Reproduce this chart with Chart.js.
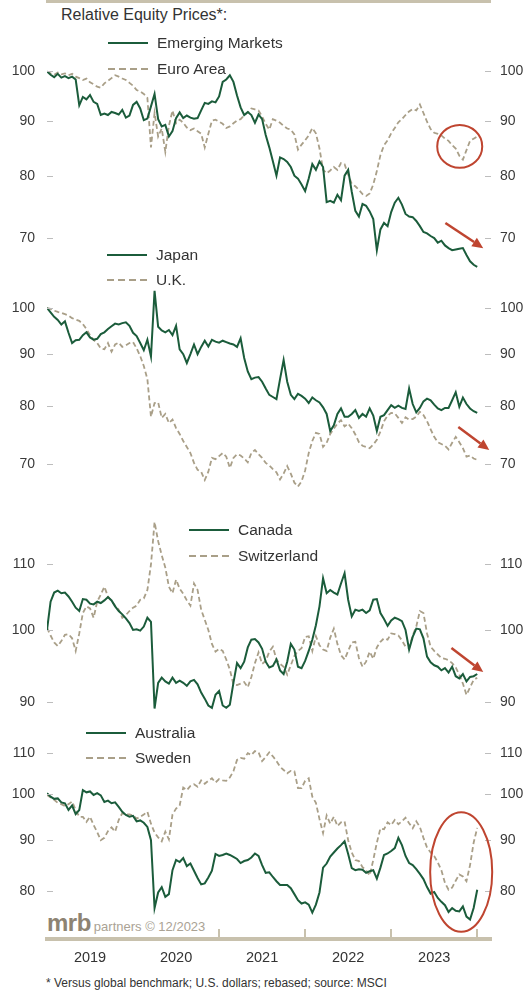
<!DOCTYPE html>
<html lang="en">
<head>
<meta charset="utf-8">
<title>Relative Equity Prices</title>
<script src="https://cdn.jsdelivr.net/npm/chart.js@4.4.1/dist/chart.umd.min.js"></script>
<style>
  html, body { margin: 0; padding: 0; background: #fff; }
  #page { position: relative; width: 526px; height: 995px; overflow: hidden;
          font-family: "Liberation Sans", Arial, sans-serif; color: #333; }
  #page canvas { position: absolute; left: 0; }
  .band { position: absolute; left: 46px; top: 0; width: 445px; height: 3px; background: #c8c1ad; }
  .title { position: absolute; left: 61px; top: 6px; font-size: 16px; line-height: 18px; white-space: nowrap; }
  .leg { position: absolute; height: 18px; line-height: 18px; font-size: 15.5px; white-space: nowrap;
         display: flex; align-items: center; }
  .leg svg { margin-right: 9px; flex: none; }
  .brand { position: absolute; left: 47px; top: 911px; white-space: nowrap; line-height: 24px; }
  .brand b { font-size: 24px; color: #8d8372; letter-spacing: -0.5px; }
  .brand span { font-size: 13px; color: #aaa294; margin-left: 3px; }
  .note { position: absolute; left: 46px; top: 975px; font-size: 12px; line-height: 16px; white-space: nowrap; }
</style>
</head>
<body>
<div id="page">
  <div class="band"></div>
  <div class="title">Relative Equity Prices*:</div>
  <div class="brand"><b>mrb</b><span>partners © 12/2023</span></div>
  <div class="note">* Versus global benchmark; U.S. dollars; rebased; source: MSCI</div>
</div>
<script>
// Semi-monthly observations, Jan 2019 through Dec 2023 (decimal years)
const PERIODS = Array.from({ length: 121 }, (_, k) => 2019 + k / 24);
const YEARS = [2019, 2020, 2021, 2022, 2023];
const YEAR_BOUNDARIES = [2021, 2022, 2023, 2024];

const emergingMarkets = [
  100, 99.3, 98.8, 99.5, 98.7, 99.0, 98.6, 98.9, 98.3, 93.0,
  94.7, 94.2, 95.1, 93.7, 93.3, 91.1, 91.4, 91.1, 91.7, 91.5,
  91.2, 92.1, 90.6, 91.0, 93.1, 93.7, 92.4, 90.1, 90.4, 92.8,
  95.3, 90.3, 88.9, 89.2, 87.0, 88.0, 90.5, 91.6, 90.5, 91.0,
  90.6, 90.4, 90.5, 92.0, 93.5, 93.3, 93.8, 93.6, 94.8, 97.8,
  98.3, 99.2, 97.8, 95.0, 92.6, 91.1, 91.7, 91.1, 89.6, 91.2,
  90.3, 87.3, 85.0, 82.5, 80.0, 83.2, 82.9, 82.4, 81.5, 80.0,
  79.5, 78.5, 77.4, 79.5, 82.0, 81.0, 82.5, 81.5, 75.6, 75.8,
  75.5, 76.8, 75.9, 80.0, 81.0, 77.3, 74.2, 73.3, 75.3, 75.0,
  74.1, 72.9, 68.2, 71.3, 72.3, 71.8, 74.0, 75.5, 76.3, 75.2,
  73.7, 73.3, 73.2, 72.6, 71.8, 70.9, 70.7, 70.3, 70.0, 69.3,
  69.6, 68.9, 68.5, 68.2, 68.3, 68.4, 68.5, 67.5, 66.6, 66.1, 65.8
];
const euroArea = [
  100, 99.6, 99.3, 99.8, 99.4, 99.6, 99.2, 99.5, 98.9, 98.6,
  98.2, 98.5, 97.7, 97.3, 96.8, 96.6, 97.5, 98.0, 98.6, 99.2,
  98.9, 98.5, 98.2, 97.6, 97.0, 96.1, 95.8, 95.3, 94.5, 85.0,
  91.5, 87.0, 88.5, 84.2, 89.0, 92.0, 89.5, 90.2, 89.6, 88.7,
  88.2, 88.5, 88.0, 87.5, 85.0, 87.5, 90.0, 90.2, 89.8, 89.4,
  88.6, 88.9, 89.5, 90.0, 90.3, 91.0, 91.6, 92.4, 92.2, 92.0,
  90.8, 89.4, 88.3, 90.3, 90.0, 89.6, 89.0, 88.5, 88.3, 87.4,
  84.6, 85.5, 86.3, 87.2, 88.6, 87.6, 84.8, 81.0, 80.4, 80.9,
  81.5, 81.0, 82.2, 82.0, 80.2, 78.6, 78.2, 77.6, 76.9, 76.6,
  77.0, 78.5, 80.8, 83.6, 85.4, 86.3, 87.6, 88.6, 89.7, 90.3,
  91.1, 91.8, 92.3, 92.0, 93.2, 91.5, 89.8, 88.4, 87.7, 87.5,
  87.2, 86.6, 86.2, 85.4, 84.8, 83.5, 82.8, 84.5, 86.2, 86.6, 87.0
];
const japan = [
  100, 99.0, 98.0, 97.3, 96.3, 97.0, 94.5, 92.3, 92.9, 93.0,
  94.0, 94.6, 93.5, 93.0, 93.2, 94.2, 94.6, 95.3, 95.9, 96.5,
  96.3, 96.6, 96.8, 96.0, 94.5, 93.8, 92.3, 90.8, 93.0, 89.5,
  104.0, 95.8, 95.0, 94.6, 95.1, 94.0, 96.0, 91.0, 90.0, 88.2,
  90.0, 92.0, 90.0, 91.5, 92.8, 91.6, 93.0, 92.6, 92.4, 92.8,
  92.5, 92.2, 92.0, 91.5, 93.3, 89.2, 86.5, 85.0, 85.3, 85.4,
  84.5, 83.2, 82.0, 81.6, 81.2, 85.0, 88.8, 84.5, 82.0, 81.2,
  82.2, 81.8, 81.3, 80.5, 81.5, 81.0, 80.6, 79.7, 78.5, 75.5,
  76.5, 78.5, 79.5, 78.0, 78.0, 78.5, 79.2, 77.8, 78.5, 78.0,
  79.5, 78.2, 75.5, 78.0, 78.3, 79.2, 80.1, 79.6, 80.0, 79.6,
  79.4, 83.2, 80.3, 78.8, 79.6, 80.8, 81.3, 81.0, 80.2, 79.5,
  79.2, 79.6, 79.6, 81.0, 82.5, 79.8, 81.5, 80.3, 79.5, 79.0, 78.7
];
const unitedKingdom = [
  100, 99.8, 99.4, 99.1, 98.9, 98.6, 98.3, 97.7, 97.4, 97.1,
  96.4, 95.3, 94.0, 93.0, 92.3, 91.2, 91.0, 92.3, 90.5, 92.0,
  92.4, 91.5, 91.8, 92.3, 92.5, 91.2, 89.6, 87.6, 85.0, 78.0,
  80.5, 80.6, 77.8, 78.5, 76.9, 77.5, 76.0, 75.0, 73.8, 72.8,
  71.8, 70.2, 69.1, 68.8, 67.5, 68.8, 71.0, 70.8, 71.3, 71.8,
  71.2, 69.4, 71.0, 71.6, 71.4, 70.9, 70.3, 71.8, 72.3, 71.6,
  71.0, 70.2, 69.8, 69.2, 68.7, 67.6, 68.5, 69.7, 68.5, 67.1,
  66.5, 67.3, 69.0, 71.8, 73.8, 75.2, 75.0, 72.8, 73.5, 75.0,
  75.9, 76.8, 77.4, 76.3, 76.8, 76.0, 74.9, 73.6, 73.0, 72.8,
  72.6, 73.2, 74.0, 75.4, 77.2, 78.2, 78.7, 78.6, 77.8, 76.9,
  77.9, 77.5, 77.6, 78.0, 78.9, 78.3, 77.2, 75.8, 74.5, 73.6,
  73.3, 73.0, 72.4, 73.5, 74.5, 73.6, 72.6, 71.2, 71.4, 70.9, 70.7
];
const canada = [
  100, 104.2, 105.6, 105.9, 105.5, 105.6, 105.0, 104.2, 103.3, 102.8,
  104.6, 104.5, 103.9, 103.8, 104.2, 104.0, 104.4, 104.9, 104.4, 103.5,
  102.8, 102.3, 101.7, 101.0, 100.0, 100.1, 99.9, 100.5, 101.8, 101.2,
  89.2, 92.6, 93.3, 92.8, 92.5, 93.3, 92.6, 92.9, 92.6, 92.2,
  92.8, 93.0, 92.4, 91.3, 90.5, 89.6, 89.3, 91.0, 91.5, 89.6,
  89.3, 89.7, 92.6, 95.3, 94.6, 95.5, 97.5, 98.6, 98.7, 98.2,
  97.3, 95.5, 94.7, 94.9, 95.8, 94.3, 93.8, 95.5, 98.0, 97.2,
  94.8, 94.6, 95.6, 97.0, 98.6, 100.7, 103.5, 107.8, 105.5, 106.0,
  105.6, 105.3, 107.0, 108.6, 104.5, 102.0, 103.0, 102.8, 103.0, 102.5,
  102.9, 104.5, 104.6, 102.5, 101.6, 100.6, 101.4, 101.8, 101.6, 101.3,
  100.0, 97.2, 99.0, 100.2, 100.1, 98.8, 96.2, 95.4, 95.0, 94.8,
  94.3, 94.6, 94.0, 94.8, 93.5, 93.2, 93.8, 92.8, 93.4, 93.5, 93.8
];
const switzerland = [
  100.3, 99.2, 98.2, 97.7, 98.4, 99.3, 99.4, 98.8, 97.0, 99.5,
  102.5, 103.5, 103.2, 101.8, 104.2, 105.3, 106.5, 105.0, 104.3, 103.6,
  103.0, 101.8, 102.2, 102.8, 103.3, 103.6, 104.5, 104.7, 106.0, 110.0,
  117.0, 113.8, 111.5, 109.5, 106.5, 105.5, 107.6, 106.2, 105.4, 104.4,
  103.6, 107.0, 106.0, 103.0, 101.5, 100.0, 98.0, 96.9, 97.3, 97.0,
  95.8, 94.4, 92.4, 92.3, 92.5, 92.7, 92.0, 93.4, 95.3, 96.8,
  95.2, 95.6, 96.9, 97.6, 95.8, 95.2, 94.8, 93.7, 95.0, 96.3,
  97.0, 97.4, 99.0, 99.1, 97.0, 99.1, 97.8, 97.2, 97.0, 98.9,
  100.2, 98.0, 96.4, 95.8, 97.0, 98.2, 98.3, 96.0, 94.8, 95.5,
  96.9, 95.9, 97.5, 98.3, 98.8, 98.6, 99.5, 99.4, 99.2, 98.5,
  97.6, 97.4, 99.2, 100.5, 102.8, 102.5, 99.5, 97.6, 97.0, 96.5,
  96.0, 95.9, 95.7, 95.3, 94.7, 93.7, 92.5, 91.0, 92.0, 93.0, 93.3
];
const australia = [
  100.3, 99.5, 99.0, 99.1, 98.2, 98.0, 96.5, 97.5, 95.6, 96.5,
  101.0, 100.5, 100.7, 99.9, 100.3, 99.8, 98.3, 98.6, 98.0, 98.2,
  97.2, 96.1, 95.4, 95.0, 95.2, 94.0, 94.2, 93.7, 92.8, 90.0,
  77.0, 79.8, 80.8, 79.0, 79.5, 84.0, 86.0, 85.6, 86.4, 84.8,
  85.3, 83.9, 82.5, 81.3, 81.5, 82.6, 83.9, 87.2, 86.8, 87.0,
  87.3, 87.0, 86.6, 86.2, 85.4, 85.8, 86.0, 86.5, 87.3, 86.8,
  85.0, 83.5, 83.6, 82.7, 81.9, 81.2, 81.2, 81.2, 80.6, 79.5,
  78.4, 77.8, 78.0, 77.6, 76.2, 77.6, 79.8, 84.5, 85.3, 86.7,
  87.5, 88.3, 89.0, 89.8, 87.2, 84.4, 84.0, 84.2, 84.1, 83.5,
  83.8, 84.0, 82.4, 84.5, 87.0, 87.3, 87.8, 88.4, 90.5, 89.0,
  86.8, 85.4, 85.0, 84.2, 83.3, 82.3, 80.8, 79.6, 79.9, 78.8,
  78.1, 77.5, 76.3, 77.0, 76.5, 76.4, 77.3, 75.5, 75.0, 77.0, 80.3
];
const sweden = [
  99.9, 99.3, 98.8, 98.1, 97.8, 97.4, 97.8, 98.4, 96.5, 95.0,
  95.0, 93.9, 95.0, 93.2, 91.7, 90.0, 90.5, 91.9, 92.7, 91.8,
  94.3, 95.8, 95.5, 95.5, 95.3, 94.6, 95.0, 95.5, 96.1, 93.5,
  91.6, 90.6, 89.8, 91.8, 90.2, 95.5, 96.8, 97.5, 101.6, 101.0,
  102.0, 102.4, 101.8, 103.3, 102.5, 103.2, 103.8, 102.8, 103.6, 103.3,
  103.2, 104.0, 105.5, 108.3, 108.8, 108.6, 110.0, 109.5, 110.5, 110.2,
  108.0, 109.0, 110.2, 109.2, 108.0, 106.6, 105.8, 105.0, 105.6, 105.5,
  101.5, 101.5, 103.2, 103.8, 99.5, 98.1, 94.5, 91.5, 95.3, 93.5,
  95.0, 93.0, 93.8, 94.0, 90.0, 87.5, 86.0, 85.8, 84.6, 84.0,
  83.0, 86.0, 89.5, 92.5, 92.3, 93.8, 93.2, 94.3, 93.4, 94.0,
  94.8, 93.6, 92.5, 94.0, 92.8, 90.5, 88.5, 87.5, 86.8, 85.5,
  84.0, 81.6, 80.3, 80.7, 82.0, 83.2, 82.8, 81.9, 85.0, 89.5, 92.6
];

const TICKS_EM_EURO = [70, 80, 90, 100];
const TICKS_JAPAN_UK = [70, 80, 90, 100];
const TICKS_CANADA_SWISS = [90, 100, 110];
const TICKS_AUS_SWEDEN = [80, 90, 100, 110];

const GREEN = '#1b5c3b';
const TAN = '#a99f88';
const RED = '#bf4530';
const KHAKI = '#c8c1ad';
const PAD = 24;        // layout padding above/below each plot area
const X_AXIS_H = 30;   // height reserved for the year labels
const X_MIN = 2019, X_MAX = 2024.16;

Chart.defaults.font.family = '"Liberation Sans", Arial, sans-serif';
Chart.defaults.color = '#3a3a3a';

// Panel geometry: plot area bounds (page px) and log-scale calibration
const PANELS = [
  {
    series: [['Emerging Markets', emergingMarkets, 'solid'], ['Euro Area', euroArea, 'dash']],
    ticks: TICKS_EM_EURO, areaTop: 40, areaBottom: 290, anchor: [100, 71.5], pxPerDecade: 1075,
    legend: { x: 108, y: [43, 69] },
    ellipses: [{ x: [2023.535, 2024.058], y: [89.17, 81.35] }],
    arrows: [{ from: [2023.63, 72.3], to: [2024.07, 68.5] }]
  },
  {
    series: [['Japan', japan, 'solid'], ['U.K.', unitedKingdom, 'dash']],
    ticks: TICKS_JAPAN_UK, areaTop: 280, areaBottom: 495, anchor: [100, 308], pxPerDecade: 1008,
    legend: { x: 107, y: [255, 280] },
    arrows: [{ from: [2023.78, 76.2], to: [2024.14, 72.3] }]
  },
  {
    series: [['Canada', canada, 'solid'], ['Switzerland', switzerland, 'dash']],
    ticks: TICKS_CANADA_SWISS, areaTop: 505, areaBottom: 720, anchor: [100, 630], pxPerDecade: 1583,
    legend: { x: 189, y: [530, 556] },
    arrows: [{ from: [2023.70, 97.4], to: [2024.07, 94.07] }]
  },
  {
    series: [['Australia', australia, 'solid'], ['Sweden', sweden, 'dash']],
    ticks: TICKS_AUS_SWEDEN, areaTop: 732, areaBottom: 939, anchor: [100, 794.5], pxPerDecade: 1000,
    legend: { x: 86, y: [733, 758] },
    ellipses: [{ x: [2023.453, 2024.174], y: [96.0, 72.9] }],
    yearTicks: YEAR_BOUNDARIES,
    xAxis: true
  }
];

// Inward tick marks, year dividers and red call-outs, placed through the chart's scales
const decor = {
  id: 'decor',
  afterDatasetsDraw(chart, _args, opts) {
    const { ctx, chartArea: { left, right, bottom } } = chart;
    const xs = chart.scales.x, ys = chart.scales.y;
    ctx.save();
    ctx.strokeStyle = '#bdbdbd';
    ctx.lineWidth = 1;
    ys.ticks.forEach(t => {
      const py = Math.round(ys.getPixelForValue(t.value)) + 0.5;
      ctx.beginPath();
      ctx.moveTo(left, py); ctx.lineTo(left + 6, py);
      ctx.moveTo(right - 6, py); ctx.lineTo(right, py);
      ctx.stroke();
    });
    if (opts.yearTicks) {
      ctx.strokeStyle = KHAKI;
      ctx.lineWidth = 2;
      opts.yearTicks.forEach(yr => {
        const px = Math.round(xs.getPixelForValue(yr));
        ctx.beginPath(); ctx.moveTo(px, bottom - 10); ctx.lineTo(px, bottom); ctx.stroke();
      });
    }
    ctx.strokeStyle = RED;
    ctx.fillStyle = RED;
    (opts.ellipses || []).forEach(e => {
      const x0 = xs.getPixelForValue(e.x[0]), x1 = xs.getPixelForValue(e.x[1]);
      const y0 = ys.getPixelForValue(e.y[0]), y1 = ys.getPixelForValue(e.y[1]);
      ctx.lineWidth = 2;
      ctx.beginPath();
      ctx.ellipse((x0 + x1) / 2, (y0 + y1) / 2, Math.abs(x1 - x0) / 2, Math.abs(y1 - y0) / 2, 0, 0, Math.PI * 2);
      ctx.stroke();
    });
    (opts.arrows || []).forEach(a => {
      const x0 = xs.getPixelForValue(a.from[0]), y0 = ys.getPixelForValue(a.from[1]);
      const x1 = xs.getPixelForValue(a.to[0]), y1 = ys.getPixelForValue(a.to[1]);
      const ang = Math.atan2(y1 - y0, x1 - x0), head = 11, half = 5;
      const bx = x1 - head * Math.cos(ang), by = y1 - head * Math.sin(ang);
      ctx.lineWidth = 2.5;
      ctx.beginPath(); ctx.moveTo(x0, y0); ctx.lineTo(bx, by); ctx.stroke();
      ctx.beginPath();
      ctx.moveTo(x1, y1);
      ctx.lineTo(bx + half * Math.sin(ang), by - half * Math.cos(ang));
      ctx.lineTo(bx - half * Math.sin(ang), by + half * Math.cos(ang));
      ctx.closePath();
      ctx.fill();
    });
    ctx.restore();
  }
};

const page = document.getElementById('page');

function legendSample(style) {
  const dash = style === 'solid' ? '' : ' stroke-dasharray="7 4"';
  const color = style === 'solid' ? GREEN : TAN;
  return '<svg width="40" height="4"><line x1="0" y1="2" x2="40" y2="2" stroke="' + color +
         '" stroke-width="2"' + dash + '/></svg>';
}

PANELS.forEach(p => {
  const top = p.areaTop - PAD;
  const height = p.areaBottom + PAD + (p.xAxis ? X_AXIS_H : 0) - top;
  const canvas = document.createElement('canvas');
  canvas.width = 526;
  canvas.height = height;
  canvas.style.top = top + 'px';
  canvas.style.width = '526px';
  canvas.style.height = height + 'px';
  page.appendChild(canvas);

  const [aVal, aPx] = p.anchor;
  const yMin = aVal * Math.pow(10, -(p.areaBottom - aPx) / p.pxPerDecade);
  const yMax = aVal * Math.pow(10, (aPx - p.areaTop) / p.pxPerDecade);

  const valueAxis = (position, width, padding) => ({
    type: 'logarithmic', position, min: yMin, max: yMax, bounds: 'data',
    grid: { display: false, drawTicks: false },
    border: { display: false },
    ticks: { padding, font: { size: 14 }, color: '#3a3a3a', autoSkip: false, callback: v => String(v) },
    afterBuildTicks: s => { s.ticks = p.ticks.map(v => ({ value: v })); },
    afterFit: s => { s.width = width; }
  });

  new Chart(canvas, {
    type: 'line',
    data: {
      datasets: p.series.map(([label, values, style]) => ({
        label,
        data: values.map((v, k) => ({ x: PERIODS[k], y: v })),
        borderColor: style === 'solid' ? GREEN : TAN,
        borderWidth: style === 'solid' ? 2 : 1.8,
        borderDash: style === 'solid' ? [] : [5, 3],
        pointRadius: 0,
        tension: 0,
        fill: false,
        yAxisID: 'y'
      }))
    },
    options: {
      responsive: false,
      animation: false,
      devicePixelRatio: 1,
      events: [],
      layout: { padding: { top: PAD, bottom: PAD, left: 0, right: 0 } },
      plugins: {
        legend: { display: false },
        tooltip: { enabled: false },
        decor: { yearTicks: p.yearTicks, ellipses: p.ellipses, arrows: p.arrows }
      },
      scales: {
        x: {
          type: 'linear', min: X_MIN, max: X_MAX, bounds: 'data',
          display: !!p.xAxis,
          grid: { display: true, drawOnChartArea: false, drawTicks: false, color: 'rgba(0,0,0,0)' },
          border: { display: true, color: KHAKI, width: 4 },
          ticks: { padding: 10, font: { size: 14.5 }, color: '#333', maxRotation: 0, autoSkip: false,
                   callback: (v, i) => String(YEARS[i]) },
          afterBuildTicks: s => { s.ticks = YEARS.map(y => ({ value: y + 0.5 })); },
          afterFit: s => { s.height = p.xAxis ? X_AXIS_H : 0; }
        },
        y: valueAxis('left', 47, 12),
        y2: valueAxis('right', 35, 9)
      }
    },
    plugins: [decor]
  });

  // Series key, drawn as page text beside a line sample
  p.series.forEach(([label, , style], i) => {
    const row = document.createElement('div');
    row.className = 'leg';
    row.style.left = p.legend.x + 'px';
    row.style.top = (p.legend.y[i] - 9) + 'px';
    row.innerHTML = legendSample(style) + '<span></span>';
    row.querySelector('span').textContent = label;
    page.appendChild(row);
  });
});
</script>
</body>
</html>
